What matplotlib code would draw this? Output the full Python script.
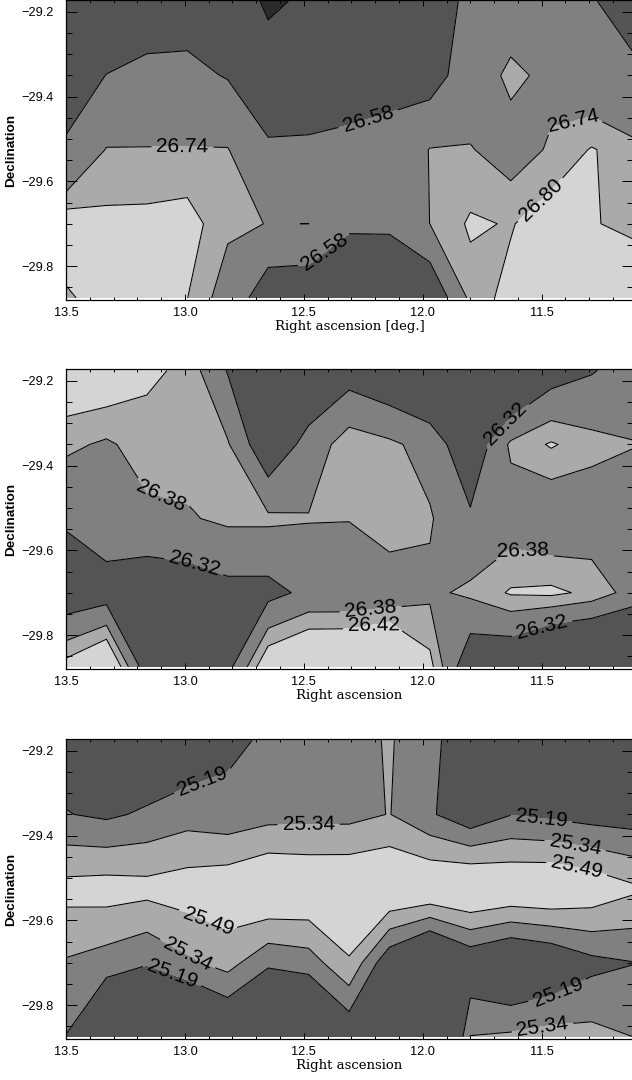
import numpy as np
import matplotlib
matplotlib.use('Agg')
import matplotlib.pyplot as plt
from matplotlib.ticker import MultipleLocator, FuncFormatter

plt.rcParams['font.family'] = 'Liberation Sans'

# grid of the maps (deg)
ra = [13.50, 13.33, 13.16, 12.99, 12.82, 12.65, 12.48, 12.31, 12.14, 11.97, 11.80, 11.63, 11.46, 11.29, 11.12]
dec = [-29.175, -29.350, -29.525, -29.700, -29.875]

# map values, one row per declination (north first)
mag_top = [
    [26.50, 26.48, 26.50, 26.50, 26.50, 26.40, 26.44, 26.46, 26.48, 26.50, 26.614, 26.68, 26.66, 26.59, 26.52],
    [26.52, 26.582, 26.613, 26.62, 26.57, 26.48, 26.50, 26.52, 26.54, 26.50, 26.68, 26.76, 26.717, 26.66, 26.61],
    [26.595, 26.745, 26.745, 26.745, 26.745, 26.60, 26.60, 26.61, 26.62, 26.745, 26.745, 26.70, 26.75, 26.805, 26.767],
    [26.85, 26.818, 26.82, 26.83, 26.755, 26.738, 26.7405, 26.60, 26.60, 26.741, 26.81, 26.795, 26.84, 26.803, 26.79],
    [26.79, 26.83, 26.83, 26.801, 26.70, 26.47, 26.45, 26.45, 26.46, 26.43, 26.77, 26.82, 26.84, 26.84, 26.84],
]
mag_mid = [
    [26.47, 26.466, 26.430, 26.41, 26.316, 26.26, 26.25, 26.288, 26.257, 26.22, 26.22, 26.20, 26.285, 26.315, 26.35],
    [26.39, 26.373, 26.40, 26.40, 26.385, 26.265, 26.344, 26.408, 26.39, 26.36, 26.265, 26.39, 26.425, 26.396, 26.382],
    [26.33, 26.367, 26.369, 26.375, 26.39, 26.39, 26.383, 26.382, 26.413, 26.385, 26.33, 26.35, 26.33, 26.343, 26.35],
    [26.27, 26.286, 26.273, 26.28, 26.30, 26.30, 26.335, 26.335, 26.34, 26.37, 26.39, 26.425, 26.43, 26.41, 26.36],
    [26.44, 26.50, 26.28, 26.25, 26.30, 26.467, 26.508, 26.51, 26.54, 26.435, 26.263, 26.247, 26.17, 26.15, 26.15],
]
mag_bot = [
    [25.10, 25.05, 25.00, 25.047, 25.152, 25.215, 25.26, 25.30, 25.35, 25.267, 25.00, 25.00, 25.00, 25.00, 25.00],
    [25.197, 25.162, 25.216, 25.274, 25.241, 25.285, 25.291, 25.292, 25.345, 25.213, 25.07, 25.185, 25.156, 25.122, 25.107],
    [25.545, 25.563, 25.544, 25.575, 25.607, 25.678, 25.657, 25.658, 25.68, 25.665, 25.70, 25.66, 25.67, 25.61, 25.52],
    [25.325, 25.27, 25.197, 25.31, 25.397, 25.22, 25.263, 25.473, 25.06, 24.83, 25.05, 24.95, 25.02, 25.145, 25.185],
    [25.185, 24.87, 25.00, 24.79, 24.956, 24.80, 24.80, 25.044, 24.90, 24.50, 25.345, 25.367, 25.40, 25.39, 25.341],
]

levels_top = [26.42, 26.58, 26.74, 26.80]
levels_mid = [26.32, 26.38, 26.42]
levels_bot = [25.19, 25.34, 25.49]

# contour labels: (level, ra, dec)
labels_top = [(26.74, 13.01, -29.516), (26.58, 12.23, -29.453), (26.74, 11.37, -29.453),
              (26.80, 11.49, -29.653), (26.58, 12.43, -29.755)]
labels_mid = [(26.38, 13.10, -29.469), (26.32, 12.93, -29.585), (26.32, 11.64, -29.308),
              (26.38, 11.58, -29.605), (26.38, 12.22, -29.733), (26.42, 12.21, -29.761),
              (26.32, 11.50, -29.78)]
labels_bot = [(25.19, 12.92, -29.279), (25.34, 12.48, -29.362), (25.19, 11.50, -29.353),
              (25.34, 11.36, -29.425), (25.49, 11.35, -29.469), (25.49, 12.90, -29.599),
              (25.34, 12.97, -29.662), (25.19, 13.04, -29.706), (25.19, 11.45, -29.75),
              (25.34, 11.50, -29.839)]

grays5 = ['#2b2b2b', '#545454', '#808080', '#aaaaaa', '#d4d4d4']
grays4 = ['#545454', '#808080', '#aaaaaa', '#d4d4d4']


def draw_panel(ax, mag, levels, colors, labels, xtitle):
    z = np.array(mag)
    bounds = [z.min() - 1] + levels + [z.max() + 1]
    ax.contourf(ra, dec, z, levels=bounds, colors=colors)
    ax.set_xlim(13.5, 11.116)
    ax.set_ylim(-29.88, -29.172)
    # one contour set per level, so the manual labels snap to the right line
    for lev in levels:
        cs = ax.contour(ra, dec, z, levels=[lev], colors='k', linewidths=0.75)
        spots = [(x, y) for l, x, y in labels if l == lev]
        if spots:
            cs.clabel(manual=spots, fmt='%.2f', fontsize=15, inline=True, colors='k')

    ax.set_axisbelow(False)
    ax.xaxis.set_major_locator(MultipleLocator(0.5))
    ax.xaxis.set_minor_locator(MultipleLocator(0.1))
    ax.yaxis.set_major_locator(MultipleLocator(0.2))
    ax.yaxis.set_minor_locator(MultipleLocator(0.05))
    fmt = FuncFormatter(lambda v, p: f'{v:.1f}'.replace('-', '\u2212'))
    ax.xaxis.set_major_formatter(fmt)
    ax.yaxis.set_major_formatter(fmt)
    ax.tick_params(which='both', direction='in', top=True, right=True, width=0.7, labelsize=9.2)
    ax.tick_params(axis='x', which='major', length=4.3, pad=5)
    ax.tick_params(axis='x', which='minor', length=2.2)
    ax.tick_params(axis='y', which='major', length=7.8, pad=9)
    ax.tick_params(axis='y', which='minor', length=4.0)
    for s in ax.spines.values():
        s.set_linewidth(0.9)

    ax.set_xlabel(xtitle, fontsize=9.5, family='DejaVu Serif')
    ax.xaxis.set_label_coords(0.5, -0.066)
    ax.set_ylabel('Declination', fontsize=9.7, fontweight='bold')
    ax.yaxis.set_label_coords(-0.087, 0.5)


fig = plt.figure(figsize=(6.32, 10.8), dpi=100)
ax1 = fig.add_axes([66 / 632, 780 / 1080, 567 / 632, 300 / 1080])
ax2 = fig.add_axes([66 / 632, 411 / 1080, 567 / 632, 300 / 1080])
ax3 = fig.add_axes([66 / 632, 41 / 1080, 567 / 632, 300 / 1080])

draw_panel(ax1, mag_top, levels_top, grays5, labels_top, 'Right ascension [deg.]')
draw_panel(ax2, mag_mid, levels_mid, grays4, labels_mid, 'Right ascension')
draw_panel(ax3, mag_bot, levels_bot, grays4, labels_bot, 'Right ascension')

fig.savefig('out.png', dpi=100)
